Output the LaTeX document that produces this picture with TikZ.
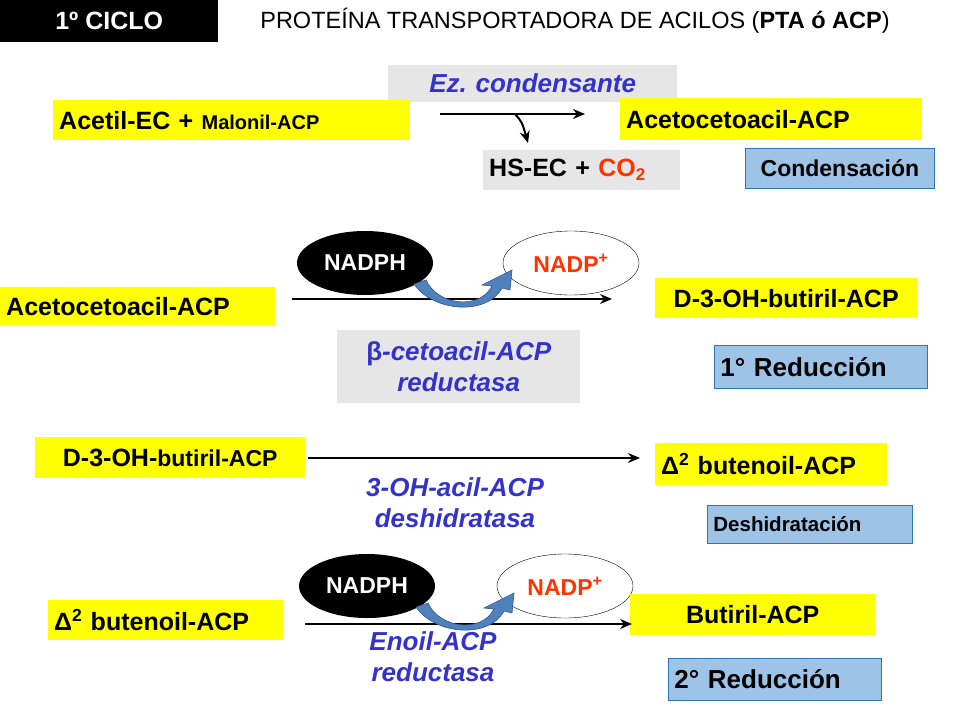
\documentclass[tikz,border=0pt]{standalone}
\usepackage{fontspec}
\setmainfont{Liberation Sans}
\usetikzlibrary{arrows.meta,shapes.geometric}
\definecolor{ylw}{HTML}{FFFF00}
\definecolor{gry}{HTML}{E6E6E6}
\definecolor{lbl}{HTML}{9DC3E6}
\definecolor{bdr}{HTML}{2E75B6}
\definecolor{etxt}{HTML}{3333CC}
\definecolor{rtxt}{HTML}{FF3300}
\definecolor{carr}{HTML}{4F81BD}
\definecolor{carrd}{HTML}{2F528F}
\frenchspacing
\begin{document}
\begin{tikzpicture}[x=1pt,y=-1pt,
 bx/.style={anchor=north west,inner sep=6pt,font=\fontsize{25}{27}\selectfont\bfseries},
 ybox/.style={bx,fill=ylw},
 gbox/.style={bx,fill=gry},
 lbox/.style={bx,fill=lbl,draw=bdr,line width=0.8pt},
 enz/.style={font=\fontsize{26}{31}\selectfont\bfseries\itshape,text=etxt,align=center},
 rx/.style={-{Stealth[length=12pt,width=10pt]},line width=2pt},
 elb/.style={ellipse,minimum width=136pt,minimum height=64pt,inner sep=0pt,font=\fontsize{23}{25}\selectfont\bfseries},
 carrow/.style={draw=carrd,line width=0.6pt,fill=carr}]
\useasboundingbox (0,0) rectangle (960,720);
% header
\node[anchor=north west,fill=black,minimum width=218pt,minimum height=42pt,text=white,font=\fontsize{25}{27}\selectfont\bfseries] (hdr) at (0,0) {1º CICLO};
\node[font=\fontsize{23.5}{25}\selectfont] (ttl) at (575,21) {PROTEÍNA TRANSPORTADORA DE ACILOS (\textbf{PTA ó ACP})};
% row 1
\node[gbox,minimum width=289pt,minimum height=37pt,text width=277pt,align=center,font=\fontsize{26}{28}\selectfont\bfseries\itshape,text=etxt] (ez) at (388,65) {Ez. condensante};
\node[ybox,minimum width=357pt,minimum height=40pt,text width=345pt,align=left] (a1) at (53,100) {Acetil-EC + {\fontsize{20}{22}\selectfont Malonil-ACP}};
\node[ybox,minimum width=302pt,minimum height=42pt,text width=290pt,align=left] (b1) at (620,98) {Acetocetoacil-ACP};
\node[gbox,minimum width=197pt,minimum height=40pt,text width=185pt,align=left] (hs) at (483,150) {HS-EC + \textcolor{rtxt}{CO\raisebox{-0.3ex}{\fontsize{17}{17}\selectfont 2}}};
\node[lbox,minimum width=189pt,minimum height=40pt,text width=177pt,align=center,font=\fontsize{23}{25}\selectfont\bfseries] (l1) at (745,148) {Condensación};
\coordinate (s1) at (440,114); \coordinate (e1) at (585,114); \coordinate (m1) at (515,114); \coordinate (d1) at (528,143);
\draw[rx] (s1) -- (e1);
\draw[rx] (m1) .. controls (522,122) .. (d1);
% row 2
\node[elb,fill=black,text=white] (np1) at (365,263) {NADPH};
\node[elb,fill=white,draw=black,text=rtxt] (npp1) at (571,263) {NADP\textsuperscript{+}};
\node[ybox,minimum width=275pt,minimum height=38pt,text width=263pt,align=left] (a2) at (0,287) {Acetocetoacil-ACP};
\node[ybox,minimum width=262pt,minimum height=40pt,text width=250pt,align=center] (b2) at (655,278) {D-3-OH-butiril-ACP};
\node[gbox,minimum width=243pt,minimum height=73pt,text width=235pt,inner sep=4pt,align=center,font=\fontsize{26}{31}\selectfont\bfseries\itshape,text=etxt] (en2) at (337,330) {{\upshape β}-cetoacil-ACP\\reductasa};
\node[lbox,minimum width=213pt,minimum height=43pt,text width=201pt,align=left,font=\fontsize{26}{28}\selectfont\bfseries] (l2) at (714,345) {1° Reducción};
\coordinate (s2) at (292,299); \coordinate (e2) at (612,299);
\draw[rx] (s2) -- (e2);
\draw[carrow] (426,280) .. controls (438,306) and (480,310) .. (492,286) -- (482,285) -- (512,270) -- (510,290) -- (502,288)
  .. controls (487,316) and (433,312) .. (414,284) -- cycle;
% row 3
\node[ybox,minimum width=270pt,minimum height=41pt,text width=262pt,inner sep=4pt,align=center] (a3) at (35,437) {D-3-OH-{\fontsize{23}{25}\selectfont butiril-ACP}};
\node[ybox,minimum width=232pt,minimum height=42pt,text width=220pt,align=left] (b3) at (655,443) {Δ\textsuperscript{2} butenoil-ACP};
\node[enz] (en3) at (455,503) {3-OH-acil-ACP\\deshidratasa};
\node[lbox,minimum width=205pt,minimum height=38pt,text width=193pt,align=left,font=\fontsize{20.5}{22}\selectfont\bfseries] (l3) at (707,505) {Deshidratación};
\coordinate (s3) at (308,458); \coordinate (e3) at (640,458);
\draw[rx] (s3) -- (e3);
% row 4
\node[elb,fill=black,text=white] (np2) at (367,586) {NADPH};
\node[elb,fill=white,draw=black,text=rtxt] (npp2) at (565,586) {NADP\textsuperscript{+}};
\node[ybox,minimum width=235pt,minimum height=40pt,text width=223pt,align=left] (a4) at (48,600) {Δ\textsuperscript{2} butenoil-ACP};
\node[ybox,minimum width=245pt,minimum height=41pt,text width=233pt,align=center] (b4) at (630,594) {Butiril-ACP};
\node[enz] (en4) at (433,657) {Enoil-ACP\\reductasa};
\node[lbox,minimum width=213pt,minimum height=42pt,text width=201pt,align=left,font=\fontsize{26}{28}\selectfont\bfseries] (l4) at (668,658) {2° Reducción};
\coordinate (s4) at (305,624); \coordinate (e4) at (632,624);
\draw[rx] (s4) -- (e4);
\draw[carrow] (428,603) .. controls (440,629) and (482,633) .. (494,609) -- (484,608) -- (514,593) -- (512,613) -- (504,611)
  .. controls (489,639) and (435,635) .. (416,607) -- cycle;
\end{tikzpicture}
\end{document}
